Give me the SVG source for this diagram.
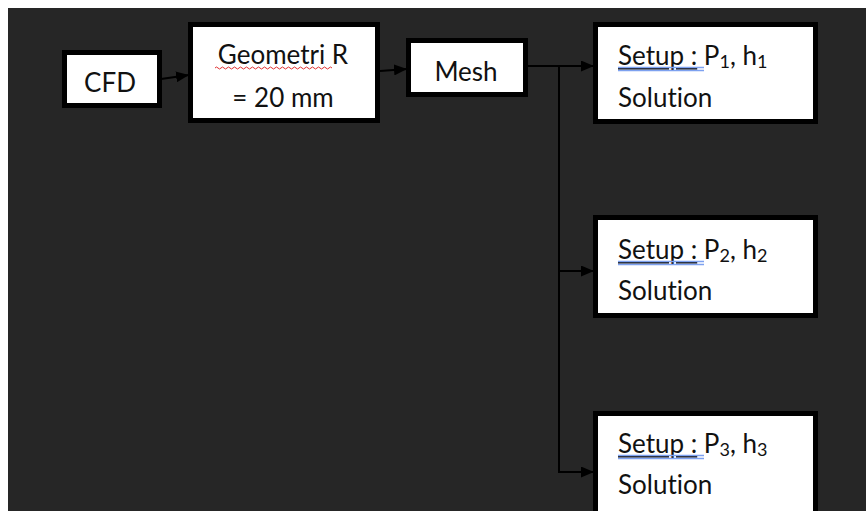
<svg xmlns="http://www.w3.org/2000/svg" width="866" height="511" viewBox="0 0 866 511">
<style>
.box{fill:#fff;stroke:#000;stroke-width:5}
.t{font-family:Lato,"Liberation Sans",sans-serif;font-size:26px;fill:#111;font-variant-ligatures:none}
.c{text-anchor:middle}
.conn{fill:none;stroke:#000;stroke-width:2}
.sub{font-size:18px}
.blue{stroke:#7da1f0;stroke-width:1.3;fill:none}
</style>
<defs>
<marker id="ah" viewBox="0 0 13 11" refX="13" refY="5.5" markerWidth="13" markerHeight="11" markerUnits="userSpaceOnUse" orient="auto">
<path d="M0,0 L13,5.5 L0,11 Z" fill="#000"/>
</marker>
</defs>
<rect x="0" y="0" width="866" height="511" fill="#fff"/>
<rect x="8" y="8" width="858" height="503" fill="#262626"/>
<g id="connectors">
<line class="conn" x1="161" y1="79" x2="189" y2="75" marker-end="url(#ah)"/>
<line class="conn" x1="380" y1="71" x2="407" y2="69" marker-end="url(#ah)"/>
<line class="conn" x1="528" y1="66" x2="594" y2="66" marker-end="url(#ah)"/>
<path class="conn" d="M559,66 V472 H594" marker-end="url(#ah)"/>
<line class="conn" x1="559" y1="271" x2="594" y2="271" marker-end="url(#ah)"/>
</g>
<g id="cfd">
<rect class="box" x="64.5" y="52.5" width="95" height="53"/>
<text class="t c" x="110" y="92">CFD</text>
</g>
<g id="geometri">
<rect class="box" x="190.5" y="24.5" width="187" height="96"/>
<text class="t c" x="283" y="64">Geometri R</text>
<path d="M215,68 q1.5,-2 3,0 t3,0 t3,0 t3,0 t3,0 t3,0 t3,0 t3,0 t3,0 t3,0 t3,0 t3,0 t3,0 t3,0 t3,0 t3,0 t3,0 t3,0 t3,0 t3,0 t3,0 t3,0 t3,0 t3,0 t3,0 t3,0 t3,0 t3,0 t3,0 t3,0 t3,0 t3,0 t3,0 t3,0 t3,0 t3,0 t3,0 t3,0 t3,0" fill="none" stroke="#e03030" stroke-width="1"/>
<text class="t c" x="283" y="107">= 20 mm</text>
</g>
<g id="mesh">
<rect class="box" x="408.5" y="40.5" width="117" height="54"/>
<text class="t c" x="466" y="81">Mesh</text>
</g>
<g id="setup1">
<rect class="box" x="595.5" y="24.5" width="220" height="97"/>
<text class="t" x="618" y="65"><tspan text-decoration="underline">Setup :</tspan> P<tspan class="sub" dy="3">1</tspan><tspan dy="-3">, h</tspan><tspan class="sub" dy="3">1</tspan></text>
<path class="blue" d="M618,67.5 H704 M618,70.5 H704"/>
<text class="t" x="618" y="107">Solution</text>
</g>
<g id="setup2">
<rect class="box" x="595.5" y="217.5" width="220" height="98"/>
<text class="t" x="618" y="259"><tspan text-decoration="underline">Setup :</tspan> P<tspan class="sub" dy="3">2</tspan><tspan dy="-3">, h</tspan><tspan class="sub" dy="3">2</tspan></text>
<path class="blue" d="M618,261.5 H704 M618,264.5 H704"/>
<text class="t" x="618" y="300">Solution</text>
</g>
<g id="setup3">
<rect class="box" x="595.5" y="413.5" width="220" height="110"/>
<text class="t" x="618" y="453"><tspan text-decoration="underline">Setup :</tspan> P<tspan class="sub" dy="3">3</tspan><tspan dy="-3">, h</tspan><tspan class="sub" dy="3">3</tspan></text>
<path class="blue" d="M618,455.5 H704 M618,458.5 H704"/>
<text class="t" x="618" y="494">Solution</text>
</g>
</svg>
